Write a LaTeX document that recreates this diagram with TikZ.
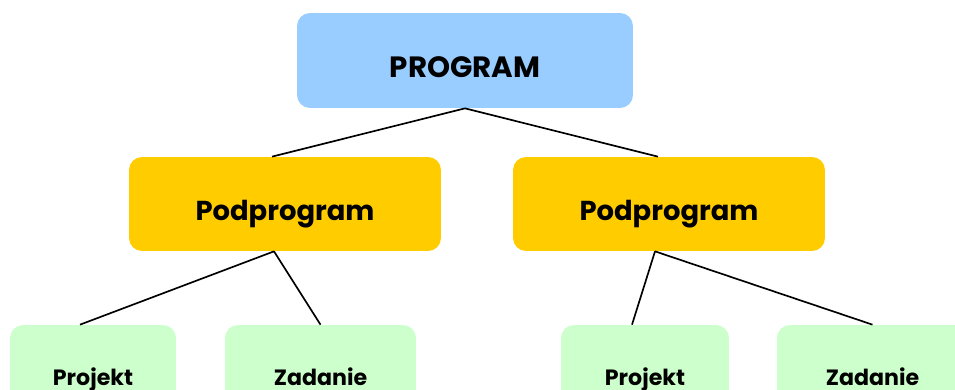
\documentclass[tikz,border=0pt]{standalone}
\usepackage{fontspec}
\setmainfont{Poppins}
\usetikzlibrary{calc}
\definecolor{progblue}{HTML}{99CCFF}
\definecolor{subyellow}{HTML}{FFCC00}
\definecolor{leafgreen}{HTML}{CCFFCC}
\tikzset{
  box/.style={rounded corners=0.26cm, inner sep=0pt, text depth=0pt, font=\bfseries},
  progbox/.style={box, fill=progblue, minimum width=6.72cm, minimum height=1.9cm, text height=0.66cm, font=\bfseries\fontsize{16.7}{20}\selectfont},
  subbox/.style={box, fill=subyellow, minimum width=6.24cm, minimum height=1.88cm, text height=0.64cm, font=\bfseries\fontsize{15.6}{19}\selectfont},
  leafbox/.style={box, fill=leafgreen, minimum height=1.9cm, text height=0.5cm, font=\bfseries\fontsize{12.6}{15}\selectfont},
  link/.style={draw=black, line width=0.95pt}
}
\begin{document}
\begin{tikzpicture}[x=0.02cm, y=-0.02cm]
  \useasboundingbox (0,0) rectangle (955,389);
  \clip (0,0) rectangle (955,389);
  % top level
  \node[progbox] (prog) at (465,60.5) {PROGRAM};
  % middle level
  \node[subbox] (subl) at (285,204) {Podprogram};
  \node[subbox] (subr) at (669,204) {Podprogram};
  % leaves
  \node[leafbox, minimum width=3.32cm] (projl) at (93,372.5) {Projekt};
  \node[leafbox, minimum width=3.82cm] (zadl) at (320.5,372.5) {Zadanie};
  \node[leafbox, minimum width=3.36cm] (projr) at (645,372.5) {Projekt};
  \node[leafbox, minimum width=3.82cm] (zadr) at (872.5,372.5) {Zadanie};
  % links
  \draw[link] (prog.south) -- ($(subl.north)+(-13,0)$);
  \draw[link] (prog.south) -- ($(subr.north)+(-11,0)$);
  \draw[link] ($(subl.south)+(-11,0)$) -- ($(projl.north)+(-13,0)$);
  \draw[link] ($(subl.south)+(-11,0)$) -- (zadl.north);
  \draw[link] ($(subr.south)+(-14,0)$) -- ($(projr.north)+(-13,0)$);
  \draw[link] ($(subr.south)+(-14,0)$) -- (zadr.north);
\end{tikzpicture}
\end{document}
